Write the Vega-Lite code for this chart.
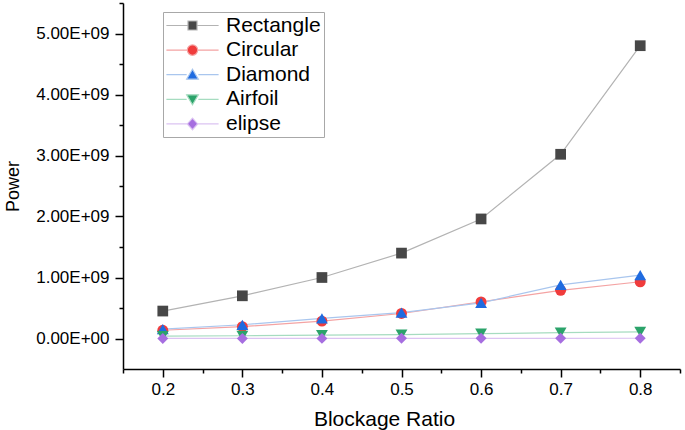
{
  "$schema": "https://vega.github.io/schema/vega-lite/v6.json",
  "width": 557,
  "height": 366,
  "autosize": {"type": "none"},
  "padding": {"left": 123, "top": 3, "right": 5, "bottom": 61},
  "background": "white",
  "config": {
    "view": {"stroke": null},
    "font": "Liberation Sans",
    "axis": {
      "grid": false,
      "domainColor": "black",
      "tickColor": "black",
      "labelColor": "black",
      "titleColor": "black",
      "domainWidth": 1.5,
      "tickWidth": 1.5,
      "labelFont": "Liberation Sans",
      "titleFont": "Liberation Sans",
      "titleFontWeight": "normal"
    }
  },
  "data": {
    "values": [
      {"series": "Rectangle", "ratio": 0.2, "power": 450000000},
      {"series": "Rectangle", "ratio": 0.3, "power": 700000000},
      {"series": "Rectangle", "ratio": 0.4, "power": 1000000000},
      {"series": "Rectangle", "ratio": 0.5, "power": 1400000000},
      {"series": "Rectangle", "ratio": 0.6, "power": 1960000000},
      {"series": "Rectangle", "ratio": 0.7, "power": 3020000000},
      {"series": "Rectangle", "ratio": 0.8, "power": 4800000000},
      {"series": "Circular", "ratio": 0.2, "power": 135000000},
      {"series": "Circular", "ratio": 0.3, "power": 195000000},
      {"series": "Circular", "ratio": 0.4, "power": 285000000},
      {"series": "Circular", "ratio": 0.5, "power": 410000000},
      {"series": "Circular", "ratio": 0.6, "power": 600000000},
      {"series": "Circular", "ratio": 0.7, "power": 790000000},
      {"series": "Circular", "ratio": 0.8, "power": 930000000},
      {"series": "Diamond", "ratio": 0.2, "power": 155000000},
      {"series": "Diamond", "ratio": 0.3, "power": 225000000},
      {"series": "Diamond", "ratio": 0.4, "power": 330000000},
      {"series": "Diamond", "ratio": 0.5, "power": 425000000},
      {"series": "Diamond", "ratio": 0.6, "power": 585000000},
      {"series": "Diamond", "ratio": 0.7, "power": 880000000},
      {"series": "Diamond", "ratio": 0.8, "power": 1040000000},
      {"series": "Airfoil", "ratio": 0.2, "power": 40000000},
      {"series": "Airfoil", "ratio": 0.3, "power": 45000000},
      {"series": "Airfoil", "ratio": 0.4, "power": 55000000},
      {"series": "Airfoil", "ratio": 0.5, "power": 65000000},
      {"series": "Airfoil", "ratio": 0.6, "power": 80000000},
      {"series": "Airfoil", "ratio": 0.7, "power": 95000000},
      {"series": "Airfoil", "ratio": 0.8, "power": 110000000},
      {"series": "elipse", "ratio": 0.2, "power": 1000000},
      {"series": "elipse", "ratio": 0.3, "power": 1500000},
      {"series": "elipse", "ratio": 0.4, "power": 2000000},
      {"series": "elipse", "ratio": 0.5, "power": 2500000},
      {"series": "elipse", "ratio": 0.6, "power": 3000000},
      {"series": "elipse", "ratio": 0.7, "power": 3500000},
      {"series": "elipse", "ratio": 0.8, "power": 4000000}
    ]
  },
  "resolve": {"axis": {"x": "independent", "y": "independent"}},
  "layer": [
    {
      "transform": [{"filter": "datum.series === 'Rectangle'"}],
      "mark": {"type": "line", "strokeWidth": 1.2, "color": "#b3b3b3"},
      "encoding": {
        "x": {
          "field": "ratio", "type": "quantitative",
          "scale": {"domain": [0.15, 0.85], "nice": false, "zero": false},
          "axis": {
            "orient": "bottom",
            "values": [0.2, 0.3, 0.4, 0.5, 0.6, 0.7, 0.8],
            "format": ".1f",
            "tickSize": 8,
            "labelFontSize": 17,
            "labelPadding": 4,
            "title": "Blockage Ratio",
            "titleFontSize": 21,
            "titlePadding": 11,
            "titleX": 261
          }
        },
        "y": {
          "field": "power", "type": "quantitative",
          "scale": {"domain": [-500000000, 5500000000], "nice": false, "zero": false},
          "axis": {
            "orient": "left",
            "values": [0, 1000000000, 2000000000, 3000000000, 4000000000, 5000000000],
            "labelExpr": "datum.value === 0 ? '0.00E+00' : format(datum.value / 1e9, '.2f') + 'E+09'",
            "tickSize": 8,
            "labelFontSize": 17,
            "labelPadding": 6,
            "title": "Power",
            "titleFontSize": 18,
            "titlePadding": 13
          }
        }
      }
    },
    {
      "transform": [{"filter": "datum.series === 'Circular'"}],
      "mark": {"type": "line", "strokeWidth": 1.2, "color": "#f4a3a3"},
      "encoding": {
        "x": {"field": "ratio", "type": "quantitative", "axis": null},
        "y": {"field": "power", "type": "quantitative", "axis": null}
      }
    },
    {
      "transform": [{"filter": "datum.series === 'Diamond'"}],
      "mark": {"type": "line", "strokeWidth": 1.2, "color": "#a9c6ee"},
      "encoding": {
        "x": {"field": "ratio", "type": "quantitative", "axis": null},
        "y": {"field": "power", "type": "quantitative", "axis": null}
      }
    },
    {
      "transform": [{"filter": "datum.series === 'Airfoil'"}],
      "mark": {"type": "line", "strokeWidth": 1.2, "color": "#a6dcc0"},
      "encoding": {
        "x": {"field": "ratio", "type": "quantitative", "axis": null},
        "y": {"field": "power", "type": "quantitative", "axis": null}
      }
    },
    {
      "transform": [{"filter": "datum.series === 'elipse'"}],
      "mark": {"type": "line", "strokeWidth": 1.2, "color": "#dcc3f2"},
      "encoding": {
        "x": {"field": "ratio", "type": "quantitative", "axis": null},
        "y": {"field": "power", "type": "quantitative", "axis": null}
      }
    },
    {
      "transform": [{"filter": "datum.series === 'Rectangle'"}],
      "mark": {"type": "point", "filled": true, "size": 115, "opacity": 1, "shape": "square", "color": "#474747"},
      "encoding": {
        "x": {
          "field": "ratio", "type": "quantitative",
          "axis": {
            "orient": "bottom",
            "values": [0.15, 0.25, 0.35, 0.45, 0.55, 0.65, 0.75, 0.85],
            "labels": false,
            "tickSize": 4,
            "domain": false,
            "title": null
          }
        },
        "y": {
          "field": "power", "type": "quantitative",
          "axis": {
            "orient": "left",
            "values": [500000000, 1500000000, 2500000000, 3500000000, 4500000000, 5500000000],
            "labels": false,
            "tickSize": 4,
            "domain": false,
            "title": null
          }
        }
      }
    },
    {
      "transform": [{"filter": "datum.series === 'Circular'"}],
      "mark": {"type": "point", "filled": true, "size": 120, "opacity": 1, "shape": "circle", "color": "#f03c3c"},
      "encoding": {
        "x": {"field": "ratio", "type": "quantitative", "axis": null},
        "y": {"field": "power", "type": "quantitative", "axis": null}
      }
    },
    {
      "transform": [{"filter": "datum.series === 'Diamond'"}],
      "mark": {"type": "point", "filled": true, "size": 140, "opacity": 1, "shape": "triangle-up", "color": "#1f6be0"},
      "encoding": {
        "x": {"field": "ratio", "type": "quantitative", "axis": null},
        "y": {"field": "power", "type": "quantitative", "axis": null}
      }
    },
    {
      "transform": [{"filter": "datum.series === 'Airfoil'"}],
      "mark": {"type": "point", "filled": true, "size": 140, "opacity": 1, "shape": "triangle-down", "color": "#2ba36a"},
      "encoding": {
        "x": {"field": "ratio", "type": "quantitative", "axis": null},
        "y": {"field": "power", "type": "quantitative", "axis": null}
      }
    },
    {
      "transform": [{"filter": "datum.series === 'elipse'"}],
      "mark": {"type": "point", "filled": true, "size": 120, "opacity": 1, "shape": "diamond", "color": "#a66ee0"},
      "encoding": {
        "x": {"field": "ratio", "type": "quantitative", "axis": null},
        "y": {"field": "power", "type": "quantitative", "axis": null}
      }
    },
    {
      "mark": {"type": "point", "filled": true, "size": 81, "opacity": 0, "strokeWidth": 1.2},
      "encoding": {
        "x": {"field": "ratio", "type": "quantitative", "axis": null},
        "y": {"field": "power", "type": "quantitative", "axis": null},
        "shape": {
          "field": "series", "type": "nominal",
          "scale": {
            "domain": ["Rectangle", "Circular", "Diamond", "Airfoil", "elipse"],
            "range": [
              "M-5.8,0H-1.1M1.1,0H5.8M-1,-1H1V1H-1Z",
              "M-5.8,0H-1.2M1.2,0H5.8M-1.15,0A1.15,1.15 0 1,1 1.15,0A1.15,1.15 0 1,1 -1.15,0Z",
              "M-5.8,0H-1.3M1.3,0H5.8M0,-1.2L1.3,1H-1.3Z",
              "M-5.8,0H-1.3M1.3,0H5.8M0,1.2L1.3,-1H-1.3Z",
              "M-5.8,0H-1.2M1.2,0H5.8M0,-1.3L1.15,0L0,1.3L-1.15,0Z"
            ]
          },
          "legend": {
            "title": null, "orient": "none", "legendX": 40, "legendY": 9, "direction": "vertical",
            "padding": 3, "strokeColor": "#a8a8a8", "fillColor": "white",
            "labelFontSize": 21, "labelColor": "black", "rowPadding": 2.6,
            "symbolSize": 81, "symbolOffset": 16, "labelOffset": 23,
            "symbolOpacity": 1, "symbolStrokeWidth": 1.2
          }
        },
        "fill": {
          "field": "series", "type": "nominal",
          "scale": {
            "domain": ["Rectangle", "Circular", "Diamond", "Airfoil", "elipse"],
            "range": ["#474747", "#f03c3c", "#1f6be0", "#2ba36a", "#a66ee0"]
          },
          "legend": {
            "title": null, "orient": "none", "legendX": 40, "legendY": 9, "direction": "vertical",
            "padding": 3, "strokeColor": "#a8a8a8", "fillColor": "white",
            "labelFontSize": 21, "labelColor": "black", "rowPadding": 2.6,
            "symbolSize": 81, "symbolOffset": 16, "labelOffset": 23,
            "symbolOpacity": 1, "symbolStrokeWidth": 1.2
          }
        },
        "stroke": {
          "field": "series", "type": "nominal",
          "scale": {
            "domain": ["Rectangle", "Circular", "Diamond", "Airfoil", "elipse"],
            "range": ["#b3b3b3", "#f4a3a3", "#a9c6ee", "#a6dcc0", "#dcc3f2"]
          },
          "legend": {
            "title": null, "orient": "none", "legendX": 40, "legendY": 9, "direction": "vertical",
            "padding": 3, "strokeColor": "#a8a8a8", "fillColor": "white",
            "labelFontSize": 21, "labelColor": "black", "rowPadding": 2.6,
            "symbolSize": 81, "symbolOffset": 16, "labelOffset": 23,
            "symbolOpacity": 1, "symbolStrokeWidth": 1.2
          }
        }
      }
    }
  ]
}
